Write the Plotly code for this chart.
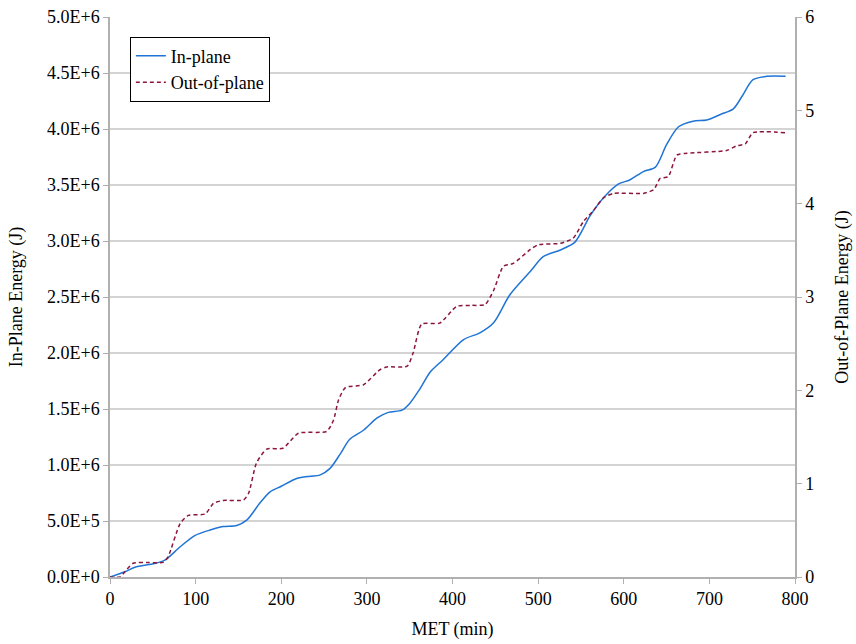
import plotly.graph_objects as go

# In-plane energy (J, in units of 1e6)
in_x = [0, 17.5, 29, 52, 64, 82, 99, 117, 132, 148, 160, 175, 187, 200, 218, 234, 245, 257, 269, 280,
        296, 312, 325, 341, 350, 362, 374, 389, 413, 432, 448, 467, 491, 506, 526, 543, 561, 578, 594,
        607, 623, 637, 650, 664, 681, 697, 713, 728, 738, 751, 767, 789]
in_y_e6 = [0, 0.047, 0.087, 0.12, 0.15, 0.27, 0.37, 0.42, 0.45, 0.46, 0.51, 0.66, 0.76, 0.81, 0.88, 0.90,
           0.91, 0.97, 1.10, 1.23, 1.31, 1.42, 1.47, 1.49, 1.55, 1.68, 1.83, 1.94, 2.12, 2.18, 2.27, 2.52,
           2.73, 2.86, 2.92, 2.99, 3.23, 3.40, 3.51, 3.545, 3.62, 3.66, 3.86, 4.02, 4.07, 4.08, 4.13, 4.18,
           4.29, 4.44, 4.47, 4.47]
in_y = [v * 1e6 for v in in_y_e6]

# Out-of-plane energy (J)
out_x = [0, 12, 17.5, 27, 45, 62, 68, 82, 91.5, 111, 121, 132, 156, 162, 171, 183, 202, 220, 253, 261,
         267, 275, 296, 315, 323, 347, 354, 364, 385, 405, 421, 438, 448, 459.5, 471, 491, 500, 526, 541,
         553, 565, 576, 588, 623, 635, 642.5, 652, 662, 674, 720, 732, 742, 751, 789]
out_y = [0, 0, 0.057, 0.147, 0.155, 0.157, 0.22, 0.575, 0.66, 0.675, 0.79, 0.82, 0.825, 0.9, 1.22, 1.37,
         1.38, 1.54, 1.56, 1.68, 1.9, 2.03, 2.06, 2.22, 2.25, 2.26, 2.40, 2.71, 2.72, 2.90, 2.91, 2.92,
         3.07, 3.33, 3.36, 3.51, 3.56, 3.575, 3.63, 3.81, 3.93, 4.06, 4.11, 4.11, 4.15, 4.27, 4.29, 4.52,
         4.54, 4.57, 4.62, 4.64, 4.76, 4.76]

left_tickvals = [i * 5e5 for i in range(11)]
left_ticktext = ["0.0E+0", "5.0E+5", "1.0E+6", "1.5E+6", "2.0E+6", "2.5E+6",
                 "3.0E+6", "3.5E+6", "4.0E+6", "4.5E+6", "5.0E+6"]
x_ticks = [0, 100, 200, 300, 400, 500, 600, 700, 800]
right_ticks = [0, 1, 2, 3, 4, 5, 6]

FONT = "Liberation Serif"
FS = 18
fig = go.Figure()
fig.add_trace(go.Scatter(x=in_x, y=in_y, mode="lines", name="In-plane",
                         line=dict(color="#1f74d6", width=1.5, shape="spline", smoothing=0.8)))
fig.add_trace(go.Scatter(x=out_x, y=out_y, mode="lines", name="Out-of-plane", yaxis="y2",
                         line=dict(color="#8c1639", width=1.5, dash="4px,3px", shape="spline", smoothing=0.6)))

axis_common = dict(showline=True, linecolor="#b0b0b0", linewidth=1.5, ticks="outside",
                   ticklen=5, tickcolor="#b0b0b0", zeroline=False, automargin=False,
                   tickfont=dict(family=FONT, size=FS, color="black"))

fig.update_layout(
    width=856, height=644,
    margin=dict(l=110, r=61, t=17, b=67),
    paper_bgcolor="white", plot_bgcolor="white",
    font=dict(family=FONT, size=FS, color="black"),
    xaxis=dict(range=[0, 800], tickvals=x_ticks, showgrid=False,
               title=dict(text="MET (min)", font=dict(family=FONT, size=FS), standoff=14),
               **axis_common),
    yaxis=dict(range=[0, 5e6], tickvals=left_tickvals, ticktext=left_ticktext,
               showgrid=True, gridcolor="#d4d4d4", gridwidth=1.5,
               title=dict(text="In-Plane Energy (J)", font=dict(family=FONT, size=FS), standoff=20),
               **axis_common),
    yaxis2=dict(range=[0, 6], tickvals=right_ticks, overlaying="y", side="right", showgrid=False,
                title=dict(text="Out-of-Plane Energy (J)", font=dict(family=FONT, size=FS), standoff=22),
                **axis_common),
    legend=dict(x=0.029, y=0.965, xanchor="left", yanchor="top",
                bgcolor="white", bordercolor="black", borderwidth=1,
                font=dict(family=FONT, size=FS, color="black"), tracegroupgap=0),
    showlegend=True,
)

fig.write_html("out.html")
